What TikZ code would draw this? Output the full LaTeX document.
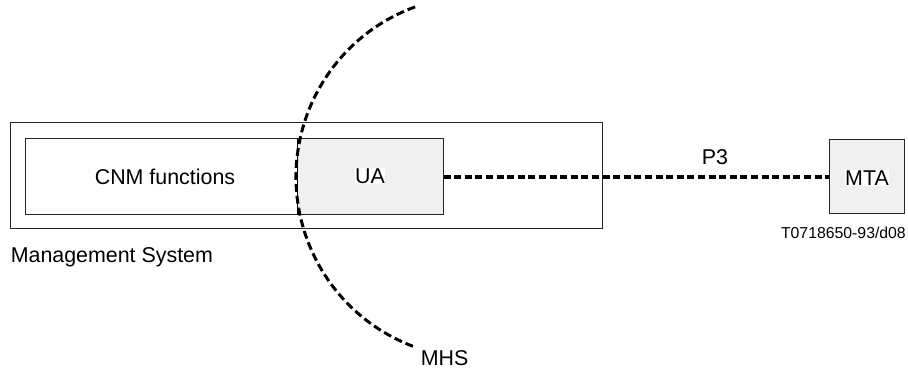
\documentclass[tikz,border=0pt]{standalone}
\usepackage{fontspec}
\setmainfont{Liberation Sans}
\begin{document}
\begin{tikzpicture}[x=1pt,y=-1pt,
  box/.style={draw=black!85,line width=1pt,rectangle,inner sep=0pt},
  shaded/.style={box,fill=black!6},
  txt/.style={font=\fontsize{21.4}{25}\selectfont,inner sep=0.6pt},
  smalltxt/.style={font=\fontsize{15.8}{18}\selectfont,inner sep=0pt},
  lbl/.style={txt,fill=white},
  dashline/.style={line width=3.2pt,dash pattern=on 7pt off 3.6pt}]
\useasboundingbox (0,0) rectangle (908,371);
% management system enclosure and its two parts
\node[box,minimum width=592,minimum height=106] (outer) at (306,176) {};
\node[box,minimum width=272,minimum height=76] (cnm) at (161,177) {};
\node[shaded,minimum width=146,minimum height=76] (ua) at (370,177) {};
\node[txt] (cnmtext) at (165,177) {CNM functions};
\node[lbl] (uatext) at (370,176) {UA};
\draw[line width=1.8pt] (cnm.north east) -- (cnm.south east);
% message transfer agent
\node[shaded,minimum width=75,minimum height=74] (mta) at (866.5,177) {};
\node[lbl] (mtatext) at (867,178) {MTA};
% P3 link
\draw[dashline] (ua.east) -- (mta.west);
\node[txt] (p3) at (715,157) {P3};
% MHS boundary arc
\coordinate (mhscentre) at (477,177);
\draw[dashline,line width=3pt,dash pattern=on 8pt off 4pt] (mhscentre) ++(250:181) arc[start angle=250,end angle=110,radius=181] coordinate (mhsend);
\node[txt,anchor=west] (mhs) at (420,358) {MHS};
\node[txt,anchor=west] (ms) at (10,257) {Management System};
\node[smalltxt,anchor=east] (ref) at (906,233) {T0718650-93/d08};
\end{tikzpicture}
\end{document}
